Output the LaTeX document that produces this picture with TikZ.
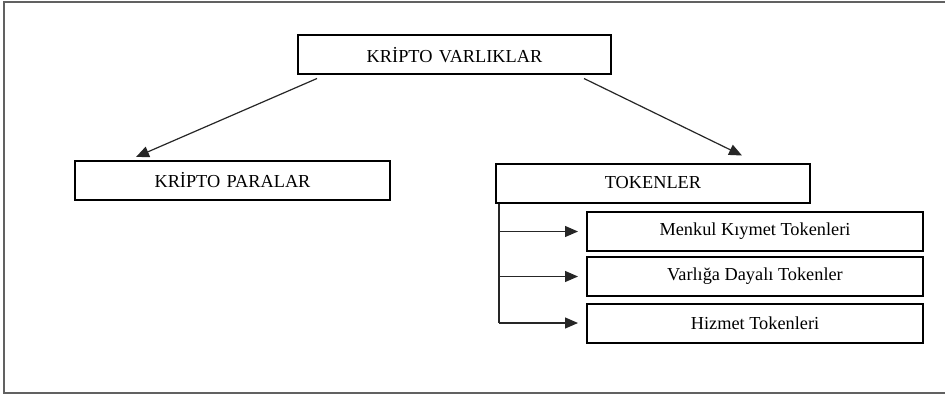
\documentclass[tikz,border=0pt]{standalone}
\usepackage{fontspec}
\setmainfont{Liberation Serif}
\usetikzlibrary{arrows.meta,calc}
\begin{document}
\begin{tikzpicture}[x=1pt,y=-1pt,
  box/.style={draw=black,line width=2pt,minimum width=314pt,minimum height=39pt,inner sep=0pt,font=\fontsize{18.3}{20}\selectfont},
  subbox/.style={box,minimum width=336pt},
  conn/.style={draw=black!85,line width=1.2pt},
  arr/.style={conn,-{Triangle[length=13pt,width=11pt]}},
  frame/.style={draw=black!62,line width=2pt}]
\useasboundingbox (0,0) rectangle (945,396);
\fill[white] (0,0) rectangle (945,396);
% frame
\coordinate (ftl) at (4,2);
\coordinate (ftr) at (946,2);
\coordinate (fbl) at (4,393);
\coordinate (fbr) at (946,393);
\draw[frame] (ftr) -- (ftl) -- (fbl) -- (fbr);
% nodes
\node[box,minimum width=313pt] (top) at (454.5,55) {KRİPTO\hspace{0.35em}VARLIKLAR};
\node[box,minimum width=315pt] (para) at (232.5,180.5) {KRİPTO\hspace{0.35em}PARALAR};
\node[box] (tok) at (653,183) {TOKENLER};
\node[subbox] (menkul) at (755,231.5) {Menkul Kıymet Tokenleri};
\node[subbox] (varlik) at (755,276.5) {Varlığa Dayalı Tokenler};
\node[subbox] (hizmet) at (755,323) {Hizmet Tokenleri};
% diagonal arrows
\coordinate (ls) at ($(top.south west)+(20,3)$);
\coordinate (le) at ($(para.north west)+(62,-3)$);
\coordinate (rs) at ($(top.south west)+(287,3)$);
\coordinate (re) at ($(tok.north west)+(247,-7)$);
\draw[arr] (ls) -- (le);
\draw[arr] (rs) -- (re);
% tree
\coordinate (vt) at ($(tok.south west)+(4,0)$);
\coordinate (vb) at (vt |- hizmet.west);
\draw[conn] (vt) -- (vb);
\draw[arr,shorten >=8pt] (vt |- menkul.west) -- (menkul.west);
\draw[arr,shorten >=8pt] (vt |- varlik.west) -- (varlik.west);
\draw[arr,shorten >=8pt] (vb) -- (hizmet.west);
\end{tikzpicture}
\end{document}
